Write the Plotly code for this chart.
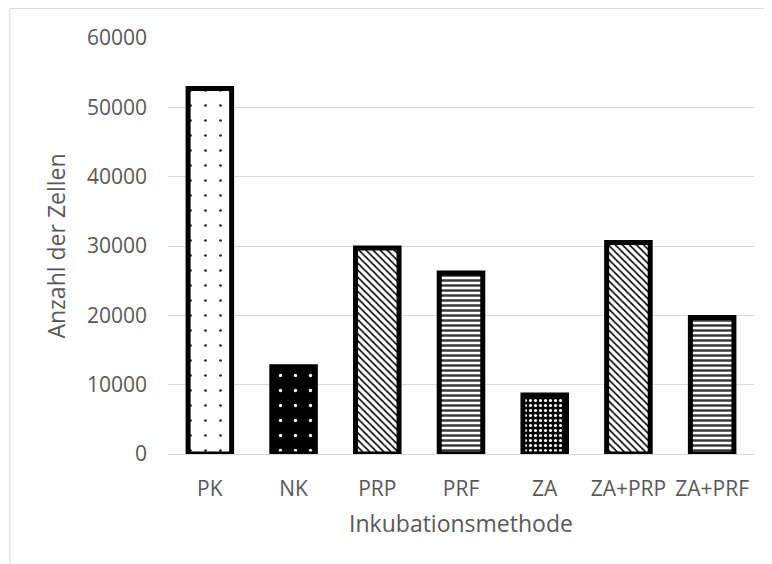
import plotly.graph_objects as go

categories = ["PK", "NK", "PRP", "PRF", "ZA", "ZA+PRP", "ZA+PRF"]
values = [52700, 12600, 29700, 26100, 8500, 30500, 19700]
y_ticks = [0, 10000, 20000, 30000, 40000, 50000, 60000]

shapes_p = [".", ".", "\\", "-", ".", "\\", "-"]
fg = ["#222222", "white", "black", "#3a3a3a", "white", "black", "#3a3a3a"]
bg = ["white", "black", "white", "white", "black", "white", "white"]
psize = [15, 15, 5, 5, 5, 5, 5]
solid = [0.025, 0.04, 0.32, 0.5, 0.3, 0.32, 0.5]

# page body has an 8px margin; figure is sized so the plot lands where the reference has it
W, H = 764, 556
L, R, T, B = 160, 18, 30, 110
pw, ph = W - L - R, H - T - B

fig = go.Figure()
for i, c in enumerate(categories):
    fig.add_trace(go.Bar(
        x=[c], y=[values[i]],
        marker=dict(
            color=bg[i],
            line=dict(color="black", width=5),
            pattern=dict(shape=shapes_p[i], fgcolor=fg[i], bgcolor=bg[i],
                         size=psize[i], solidity=solid[i], fillmode="replace"),
        ),
        width=0.52,
    ))

font_c = "#595959"
fig.update_layout(
    width=W, height=H,
    barmode="overlay",
    margin=dict(l=L, r=R, t=T, b=B),
    paper_bgcolor="white", plot_bgcolor="white",
    font=dict(family="Open Sans", size=21, color=font_c),
    showlegend=False,
    xaxis=dict(title=dict(text="Inkubationsmethode", font=dict(size=23), standoff=14),
               categoryorder="array", categoryarray=categories,
               showgrid=False, showline=False, ticks="", tickfont=dict(size=21),
               ticklabelstandoff=20, automargin=False),
    yaxis=dict(title=dict(text="Anzahl der Zellen", font=dict(size=23), standoff=14),
               range=[0, 60000], tickvals=y_ticks, tickformat="d", showgrid=True,
               gridcolor="#d9d9d9", gridwidth=1, zeroline=True,
               zerolinecolor="#d9d9d9", zerolinewidth=1, showline=False,
               ticks="", tickfont=dict(size=21), ticklabelstandoff=20,
               automargin=False),
    shapes=[
        dict(type="line", xref="paper", yref="paper",
             x0=(2 - L) / pw, x1=(800 - L) / pw,
             y0=(T + ph - 0.5) / ph, y1=(T + ph - 0.5) / ph,
             line=dict(color="#d9d9d9", width=1), layer="below"),
        dict(type="line", xref="paper", yref="paper",
             x0=(2 - L) / pw, x1=(2 - L) / pw,
             y0=(T + ph - 600) / ph, y1=(T + ph - 0.5) / ph,
             line=dict(color="#d9d9d9", width=1), layer="below"),
    ],
)

fig.write_html("out.html")
